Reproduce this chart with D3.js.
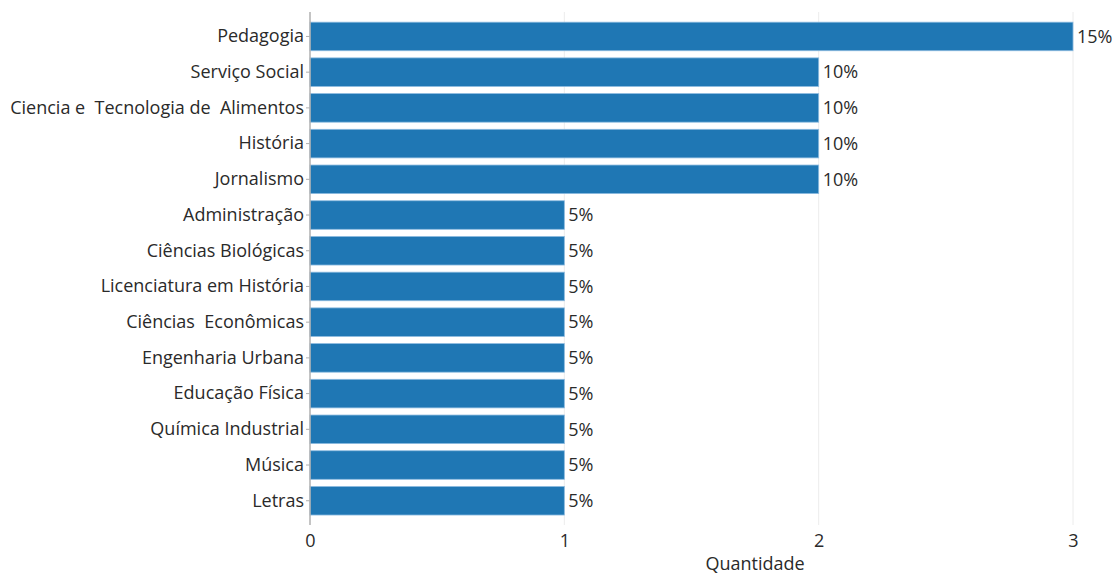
<!DOCTYPE html>
<html>
<head>
<meta charset="utf-8">
<script src="https://cdn.jsdelivr.net/npm/d3@7"></script>
<style>
  body { margin: 0; background: #fff; }
  text { font-family: "Open Sans", "Noto Sans", sans-serif; fill: #2a2a2a; }
</style>
</head>
<body>
<svg id="chart" width="1115" height="574"></svg>
<script>
// categories, top to bottom
const courses = [
  "Pedagogia",
  "Serviço Social",
  "Ciencia e  Tecnologia de  Alimentos",
  "História",
  "Jornalismo",
  "Administração",
  "Ciências Biológicas",
  "Licenciatura em História",
  "Ciências  Econômicas",
  "Engenharia Urbana",
  "Educação Física",
  "Química Industrial",
  "Música",
  "Letras"
];
const counts = [3, 2, 2, 2, 2, 1, 1, 1, 1, 1, 1, 1, 1, 1];
const percents = ["15%", "10%", "10%", "10%", "10%", "5%", "5%", "5%", "5%", "5%", "5%", "5%", "5%", "5%"];
const xTicks = [0, 1, 2, 3];
const xTitle = "Quantidade";

let svg = d3.select("#chart");

let plotLeft = 310, plotRight = 1073;
let plotTop = 12, plotBottom = 525;
let fontSize = 18;

let x = d3.scaleLinear().domain([0, 3]).range([plotLeft, plotRight]);
let y = d3.scaleBand().domain(courses).range([18.6, 518.6]).paddingInner(0.2).paddingOuter(0.1);

// vertical gridlines
svg.append("g").selectAll("line").data(xTicks.slice(1)).enter().append("line")
    .attr("x1", d => x(d)).attr("x2", d => x(d))
    .attr("y1", plotTop).attr("y2", plotBottom)
    .attr("stroke", "#ececec").attr("stroke-width", 1);

// bars
let rows = courses.map((c, i) => ({ name: c, value: counts[i], label: percents[i] }));

svg.append("g").selectAll("rect").data(rows).enter().append("rect")
    .attr("x", x(0))
    .attr("y", d => y(d.name))
    .attr("width", d => x(d.value) - x(0))
    .attr("height", y.bandwidth())
    .attr("fill", "#1f77b4")
    .attr("stroke", "#8dbbe0")
    .attr("stroke-width", 0.8);

// value labels
svg.append("g").selectAll("text").data(rows).enter().append("text")
    .attr("x", d => x(d.value) + 4)
    .attr("y", d => y(d.name) + y.bandwidth() / 2)
    .attr("dy", "0.35em")
    .attr("font-size", fontSize)
    .text(d => d.label);

// y axis line and category labels
svg.append("line")
    .attr("x1", plotLeft).attr("x2", plotLeft)
    .attr("y1", plotTop).attr("y2", plotBottom)
    .attr("stroke", "#b0b0b0").attr("stroke-width", 1.5);

let yAxis = d3.axisLeft(y).tickSize(4).tickPadding(2);
let gy = svg.append("g").attr("transform", `translate(${plotLeft},0)`).call(yAxis);
gy.select(".domain").remove();
gy.selectAll(".tick line").attr("stroke", "#b0b0b0");
gy.selectAll(".tick text")
    .attr("font-size", fontSize)
    .attr("font-family", "'Open Sans', 'Noto Sans', sans-serif")
    .attr("fill", "#2a2a2a")
    .style("white-space", "pre");

// x axis tick labels
let xAxis = d3.axisBottom(x).tickValues(xTicks).tickSize(0).tickPadding(9).tickFormat(d3.format("d"));
let gx = svg.append("g").attr("transform", `translate(0,${plotBottom})`).call(xAxis);
gx.select(".domain").remove();
gx.selectAll(".tick text")
    .attr("font-size", fontSize)
    .attr("font-family", "'Open Sans', 'Noto Sans', sans-serif")
    .attr("fill", "#2a2a2a");

// x axis title
svg.append("text")
    .attr("x", 755)
    .attr("y", 570)
    .attr("text-anchor", "middle")
    .attr("font-size", fontSize)
    .text(xTitle);
</script>
</body>
</html>
